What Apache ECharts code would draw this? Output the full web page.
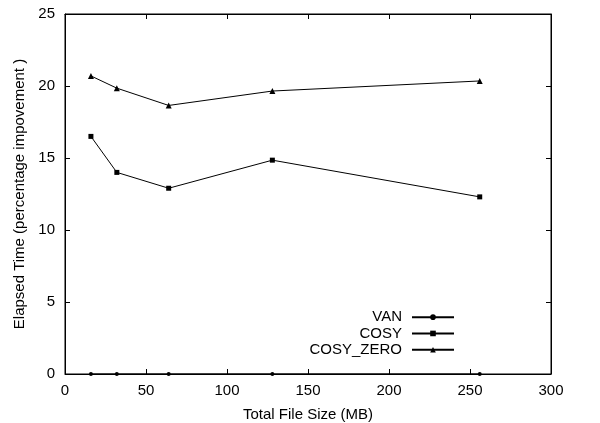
<!DOCTYPE html>
<html><head><meta charset="utf-8">
<script src="https://cdn.jsdelivr.net/npm/echarts@6/dist/echarts.min.js"></script>
<style>html,body{margin:0;padding:0;background:#fff}#c{width:600px;height:423px}</style>
</head><body><div id="c"></div>
<script>
const xValues = [16, 32, 64, 128, 256];
const vanValues = [0, 0, 0, 0, 0];
const cosyValues = [16.5, 14.0, 12.9, 14.85, 12.3];
const cosyZeroValues = [20.7, 19.85, 18.65, 19.65, 20.35];
const xTicks = [0, 50, 100, 150, 200, 250, 300];
const yTicks = [0, 5, 10, 15, 20, 25];

const font = 'Liberation Sans, Arial, Helvetica, sans-serif';
const pairs = v => xValues.map((x, i) => [x, v[i]]);
const chart = echarts.init(document.getElementById('c'));
const axisLine = () => ({show: true, onZero: false, lineStyle: {color: '#000', width: 1}});
const ticks = () => ({show: true, inside: true, length: 5, lineStyle: {color: '#000', width: 1}});
const line = (name, data, symbol, size) => ({
  name, type: 'line', data: pairs(data), symbol, symbolSize: size,
  showSymbol: true, animation: false,
  lineStyle: {color: '#000', width: 1}, itemStyle: {color: '#000'}
});
chart.setOption({
  animation: false,
  backgroundColor: '#fff',
  grid: {left: 65, right: 49, top: 14, bottom: 49, show: true, borderColor: '#000', borderWidth: 1,
         outerBoundsMode: 'none', containLabel: false},
  xAxis: [{
    type: 'value', min: xTicks[0], max: xTicks[xTicks.length - 1], interval: 50,
    name: 'Total File Size (MB)', nameLocation: 'middle', nameGap: 33, nameMoveOverlap: false,
    nameTextStyle: {fontFamily: font, fontSize: 15, color: '#000'},
    axisLine: axisLine(), axisTick: ticks(), splitLine: {show: false},
    axisLabel: {fontFamily: font, fontSize: 15, color: '#000', margin: 9}
  }, {
    type: 'value', position: 'top', min: xTicks[0], max: xTicks[xTicks.length - 1], interval: 50,
    axisLine: axisLine(), axisTick: ticks(), splitLine: {show: false}, axisLabel: {show: false}
  }],
  yAxis: [{
    type: 'value', min: yTicks[0], max: yTicks[yTicks.length - 1], interval: 5,
    name: 'Elapsed Time (percentage impovement )', nameLocation: 'middle', nameGap: 36,
    nameTextStyle: {fontFamily: font, fontSize: 15, color: '#000'},
    axisLine: axisLine(), axisTick: ticks(), splitLine: {show: false},
    axisLabel: {fontFamily: font, fontSize: 15, color: '#000', margin: 10}
  }, {
    type: 'value', position: 'right', min: yTicks[0], max: yTicks[yTicks.length - 1], interval: 5,
    axisLine: axisLine(), axisTick: ticks(), splitLine: {show: false}, axisLabel: {show: false}
  }],
  legend: {
    orient: 'vertical', align: 'right', right: 140, top: 304,
    itemWidth: 42, itemHeight: 7, itemGap: 0,
    textStyle: {fontFamily: font, fontSize: 15, color: '#000', padding: [0, 5, 0, 0], lineHeight: 16.3},
    data: ['VAN', 'COSY', 'COSY_ZERO']
  },
  series: [
    line('VAN', vanValues, 'circle', 4),
    line('COSY', cosyValues, 'rect', 5),
    line('COSY_ZERO', cosyZeroValues, 'triangle', 6)
  ]
});
</script></body></html>
